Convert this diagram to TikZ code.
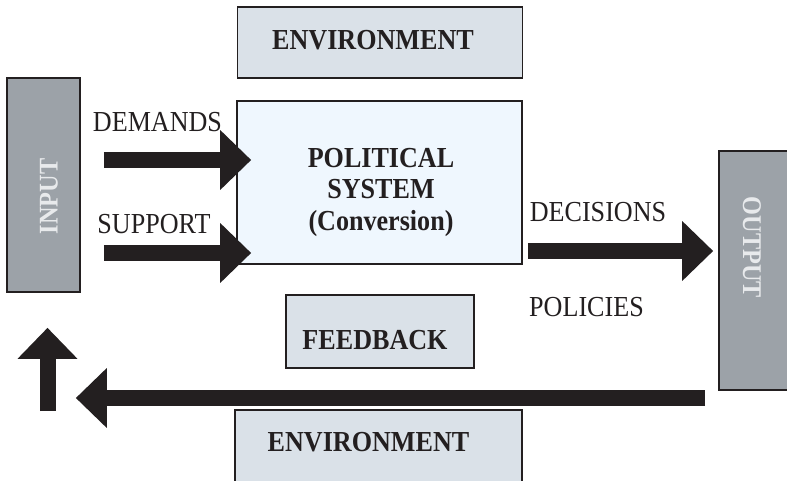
\documentclass[tikz,border=0pt]{standalone}
\usepackage{fontspec}
\setmainfont{Liberation Serif}[FakeStretch=0.9]
\usetikzlibrary{arrows.meta}
\definecolor{inkblack}{RGB}{35,31,32}
\definecolor{iogrey}{RGB}{156,162,168}
\definecolor{envgrey}{RGB}{218,225,232}
\definecolor{syspale}{RGB}{239,247,254}
\definecolor{iotext}{RGB}{232,234,236}

\begin{document}
\begin{tikzpicture}[x=1pt,y=-1pt,
  box/.style={draw=inkblack, line width=1.6pt, inner sep=0pt},
  iobox/.style={box, fill=iogrey},
  envbox/.style={box, fill=envgrey},
  word/.style={inner sep=0pt, text=inkblack, font=\fontsize{29}{31.5}\selectfont},
  boldword/.style={word, font=\fontsize{29}{31.5}\selectfont\bfseries},
  iolabel/.style={inner sep=0pt, text=iotext, font=\fontsize{27}{30}\selectfont\bfseries},
  bigarrow/.style={draw=inkblack, line width=16pt, -{Triangle[length=31pt,width=58pt]}}]
  \useasboundingbox (0,0) rectangle (787,481);
  \clip (0,0) rectangle (787,481);
  % boxes
  \node [envbox, minimum width=285pt, minimum height=71pt] (envtop) at (380,42.5) {};
  \node [box, fill=syspale, minimum width=285pt, minimum height=163pt] (pol) at (379.5,182.5) {};
  \node [iobox, minimum width=73pt, minimum height=214pt] (input) at (43.5,185) {};
  \node [iobox, minimum width=70pt, minimum height=239pt] (output) at (754,270.5) {};
  \node [envbox, minimum width=188pt, minimum height=73pt] (feed) at (380,331.5) {};
  \node [envbox, minimum width=287pt, minimum height=100pt] (envbot) at (378.5,460) {};
  % arrows
  \draw [bigarrow, shorten <=23pt, shorten >=-15pt] (input.east |- 0,160) -- (pol.west |- 0,160);
  \draw [bigarrow, shorten <=23pt, shorten >=-15pt] (input.east |- 0,253) -- (pol.west |- 0,253);
  \draw [bigarrow, shorten <=5pt, shorten >=5pt] (pol.east |- 0,251) -- (output.west |- 0,251);
  \draw [bigarrow, shorten <=13pt, shorten >=-5pt] (output.west |- 0,398) -- (input.east |- 0,398);
  \coordinate (upfoot) at (47.5,411);
  \draw [bigarrow, shorten >=35pt] (upfoot) -- (upfoot |- input.south);
  % texts
  \node [boldword] (envtoptext) at (373,40) {ENVIRONMENT};
  \node [boldword, align=center] (poltext) at (381,192) {POLITICAL\\SYSTEM\\(Conversion)};
  \node [boldword] (feedtext) at (375,340) {FEEDBACK};
  \node [boldword] (envbottext) at (368.5,442.5) {ENVIRONMENT};
  \node [iolabel, rotate=90] (inputtext) at (49,196.5) {INPUT};
  \node [iolabel, rotate=-90] (outputtext) at (752,247.5) {OUTPUT};
  \node [word] (demands) at (157.5,122.5) {DEMANDS};
  \node [word] (support) at (154,224) {SUPPORT};
  \node [word] (decisions) at (598,212.5) {DECISIONS};
  \node [word] (policies) at (586.5,307) {POLICIES};
\end{tikzpicture}
\end{document}
